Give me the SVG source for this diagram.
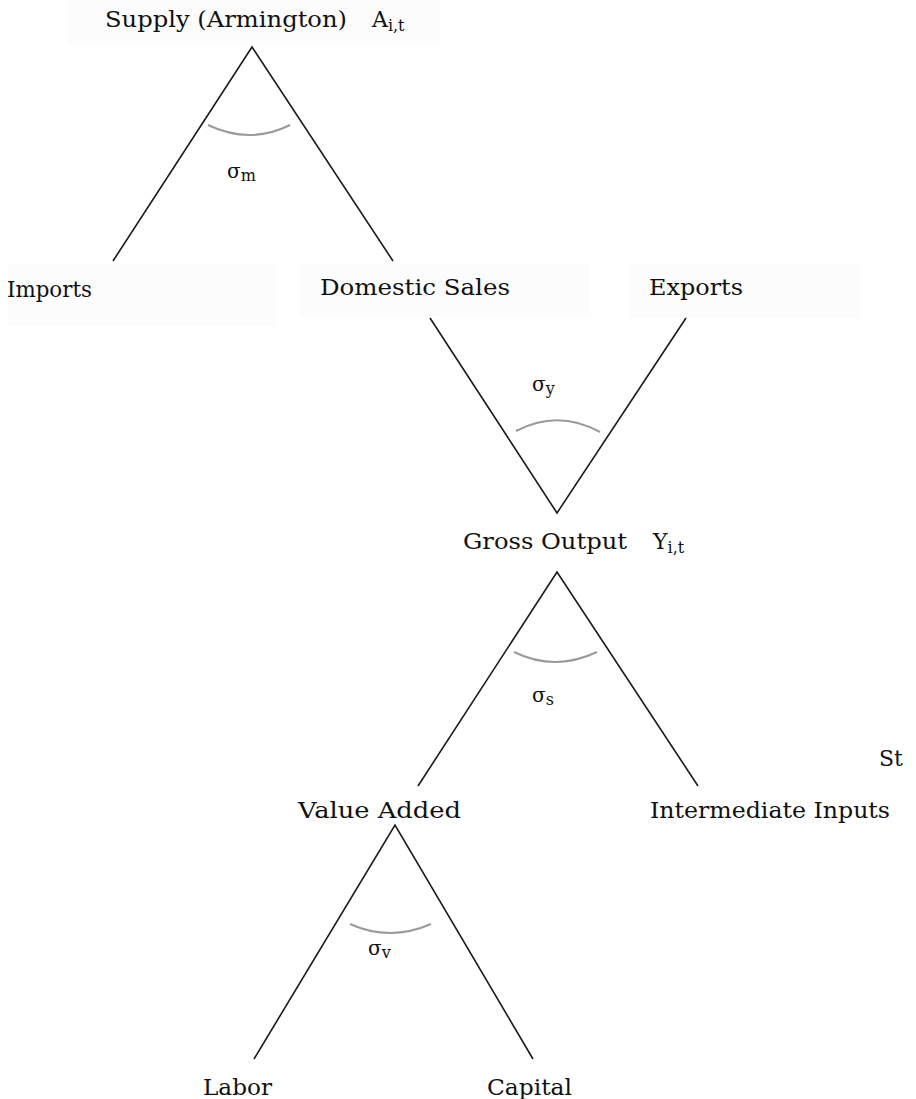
<svg xmlns="http://www.w3.org/2000/svg" width="916" height="1099" viewBox="0 0 916 1099">
<style>
.lbl{font-family:"DejaVu Serif","Liberation Serif",serif;font-size:22px;fill:#111}
.sub{font-size:16px}
.sig{font-family:"DejaVu Serif","Liberation Serif",serif;font-size:20px;fill:#111}
.leg{stroke:#1a1a1a;stroke-width:1.6;fill:none}
.arc{stroke:#9a9a9a;stroke-width:2;fill:none}
.bg{fill:#fcfcfc}
</style>
<rect width="916" height="1099" fill="#fff"/>
<g id="backgrounds">
<rect class="bg" x="68" y="0" width="372" height="43"/>
<rect class="bg" x="8" y="264" width="268" height="62"/>
<rect class="bg" x="300" y="264" width="290" height="52"/>
<rect class="bg" x="630" y="264" width="230" height="54"/>
</g>
<g id="connectors">
<polyline class="leg" points="113,261 252,47 393,261"/>
<polyline class="leg" points="430,318 557,513 686,318"/>
<polyline class="leg" points="418,786 557,572 698,786"/>
<polyline class="leg" points="254,1059 395,825 533,1059"/>
<path class="arc" d="M208,125 Q250,145 290,125"/>
<path class="arc" d="M516,431 Q558,409 600,432"/>
<path class="arc" d="M514,652 Q555,672 597,652"/>
<path class="arc" d="M350,924 Q390,942 431,924"/>
</g>
<g id="supply">
<text class="lbl" x="105" y="27" textLength="242" lengthAdjust="spacingAndGlyphs">Supply (Armington)</text>
<text class="lbl" x="372" y="27">A<tspan class="sub" dy="4">i,t</tspan></text>
</g>
<g id="sigma-m"><text class="sig" x="227" y="178">σ<tspan class="sub" dy="3">m</tspan></text></g>
<g id="imports"><text class="lbl" x="7" y="297" textLength="85" lengthAdjust="spacingAndGlyphs">Imports</text></g>
<g id="domestic"><text class="lbl" x="320" y="295" textLength="190" lengthAdjust="spacingAndGlyphs">Domestic Sales</text></g>
<g id="exports"><text class="lbl" x="649" y="295" textLength="94" lengthAdjust="spacingAndGlyphs">Exports</text></g>
<g id="sigma-y"><text class="sig" x="532" y="391">σ<tspan class="sub" dy="3">y</tspan></text></g>
<g id="gross">
<text class="lbl" x="463" y="549" textLength="164" lengthAdjust="spacingAndGlyphs">Gross Output</text>
<text class="lbl" x="653" y="549">Y<tspan class="sub" dy="4">i,t</tspan></text>
</g>
<g id="sigma-s"><text class="sig" x="532" y="702">σ<tspan class="sub" dy="3">s</tspan></text></g>
<g id="st"><text class="lbl" x="879" y="766">St</text></g>
<g id="value"><text class="lbl" x="298" y="818" textLength="163" lengthAdjust="spacingAndGlyphs">Value Added</text></g>
<g id="intermediate"><text class="lbl" x="650" y="818" textLength="240" lengthAdjust="spacingAndGlyphs">Intermediate Inputs</text></g>
<g id="sigma-v"><text class="sig" x="368" y="955">σ<tspan class="sub" dy="3">v</tspan></text></g>
<g id="labor"><text class="lbl" x="203" y="1095" textLength="69" lengthAdjust="spacingAndGlyphs">Labor</text></g>
<g id="capital"><text class="lbl" x="487" y="1095" textLength="85" lengthAdjust="spacingAndGlyphs">Capital</text></g>
</svg>
